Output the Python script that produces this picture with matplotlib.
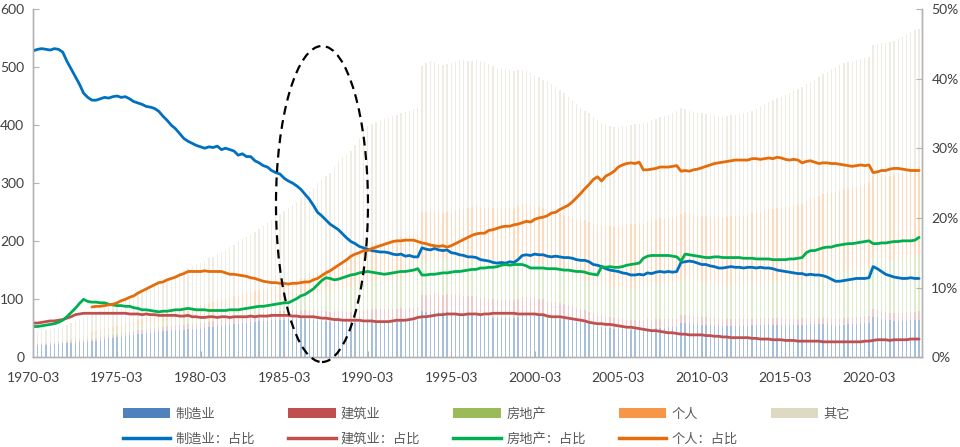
import numpy as np
import matplotlib
matplotlib.use("Agg")
import matplotlib.pyplot as plt
from matplotlib.patches import Patch, Ellipse
from matplotlib.lines import Line2D
from matplotlib.ticker import FuncFormatter

plt.rcParams["font.family"] = ["Lato", "Noto Sans CJK SC", "DejaVu Sans"]

# quarterly, 1970-03 ... 2023-03
start_year = 1970
n_quarters = 213
nan = np.nan

# total loans (left axis)
total = [
    44, 45, 46, 47, 48, 50, 52, 54, 56, 59, 62, 65, 68, 71, 74, 77,
    81, 84, 87, 89, 92, 95, 98, 101, 104, 108, 111, 115, 118, 122, 126, 130,
    134, 138, 142, 146, 150, 154, 157, 160, 163, 166, 170, 173, 177, 181, 185, 189,
    194, 198, 203, 207, 212, 216, 221, 226, 231, 236, 241, 246, 251, 257, 262, 268,
    274, 280, 286, 292, 300, 306, 312, 318, 330, 338, 345, 350, 355, 365, 378, 390,
    398, 402, 405, 408, 410, 412, 415, 417, 420, 422, 425, 427, 429, 502, 506, 510,
    508, 505, 503, 505, 507, 509, 512, 512, 511, 510, 512, 510, 508, 505, 502, 498,
    497, 497, 495, 493, 494, 495, 493, 490, 486, 482, 478, 474, 470, 465, 460, 455,
    449, 442, 436, 430, 425, 420, 414, 408, 404, 401, 399, 397, 397, 398, 399, 400,
    401, 402, 404, 406, 408, 411, 413, 415, 417, 420, 424, 429, 428, 425, 422, 420,
    420, 419, 418, 417, 415, 414, 415, 417, 418, 419, 420, 422, 425, 428, 432, 436,
    440, 443, 446, 449, 452, 455, 458, 462, 466, 470, 474, 478, 483, 488, 492, 496,
    500, 503, 506, 508, 510, 512, 514, 516, 518, 538, 540, 541, 542, 543, 545, 548,
    552, 556, 560, 564, 566,
]

# shares in % (right axis)
share_mfg = [
    44.0, 44.2, 44.3, 44.2, 44.1, 44.3, 44.2, 43.8, 42.5, 41.4, 40.3, 39.2, 37.9, 37.3, 36.9, 36.9,
    37.1, 37.3, 37.2, 37.4, 37.5, 37.3, 37.4, 37.1, 36.7, 36.5, 36.3, 36.0, 35.9, 35.7, 35.3, 34.6,
    34.0, 33.3, 32.8, 32.1, 31.4, 31.0, 30.7, 30.4, 30.2, 30.0, 30.2, 30.1, 30.3, 29.8, 30.0, 29.8,
    29.6, 29.0, 29.2, 28.8, 28.8, 28.2, 27.9, 27.5, 27.3, 26.8, 26.5, 26.3, 25.7, 25.3, 25.0, 24.6,
    24.1, 23.4, 22.7, 21.8, 20.8, 20.3, 19.7, 19.1, 18.7, 18.3, 17.7, 17.1, 16.6, 16.3, 15.9, 15.7,
    15.5, 15.3, 15.2, 15.1, 15.1, 15.0, 14.8, 14.7, 14.8, 14.5, 14.6, 14.4, 14.4, 15.7, 15.5, 15.4,
    15.6, 15.4, 15.3, 15.4, 15.0, 14.9, 14.7, 14.6, 14.4, 14.4, 14.3, 14.0, 13.9, 13.8, 13.6, 13.5,
    13.6, 13.5, 13.7, 13.6, 14.0, 14.6, 14.7, 14.6, 14.8, 14.7, 14.7, 14.5, 14.4, 14.5, 14.4, 14.3,
    14.3, 14.2, 14.0, 13.9, 13.9, 13.7, 13.3, 13.2, 13.0, 12.7, 12.5, 12.4, 12.3, 12.1, 12.0, 11.8,
    11.8, 11.9, 11.8, 12.1, 12.0, 12.2, 12.3, 12.2, 12.3, 12.2, 12.3, 13.6, 13.7, 13.8, 13.7, 13.5,
    13.3, 13.3, 13.1, 13.0, 12.8, 12.8, 12.9, 13.0, 12.9, 12.9, 12.8, 12.9, 12.9, 12.8, 12.9, 12.8,
    12.8, 12.7, 12.5, 12.4, 12.3, 12.2, 12.1, 12.0, 12.0, 11.8, 11.9, 11.8, 11.8, 11.7, 11.5, 11.2,
    10.9, 10.9, 11.0, 11.1, 11.2, 11.3, 11.3, 11.3, 11.4, 13.0, 12.7, 12.3, 11.9, 11.7, 11.5, 11.4,
    11.3, 11.3, 11.4, 11.3, 11.3,
]

share_con = [
    4.9, 4.9, 5.0, 5.1, 5.2, 5.2, 5.3, 5.4, 5.6, 5.8, 6.1, 6.2, 6.3, 6.3, 6.3, 6.3,
    6.3, 6.3, 6.3, 6.3, 6.3, 6.3, 6.3, 6.2, 6.2, 6.2, 6.1, 6.2, 6.1, 6.1, 6.0, 6.0,
    6.0, 6.0, 6.0, 5.9, 5.9, 6.0, 5.8, 5.8, 5.7, 5.7, 5.8, 5.8, 5.7, 5.8, 5.8, 5.7,
    5.8, 5.8, 5.8, 5.8, 5.9, 5.8, 5.9, 5.9, 5.9, 6.0, 6.0, 6.0, 6.0, 6.0, 5.9, 5.9,
    5.8, 5.8, 5.8, 5.8, 5.7, 5.6, 5.6, 5.5, 5.4, 5.4, 5.3, 5.3, 5.3, 5.3, 5.3, 5.2,
    5.2, 5.2, 5.1, 5.1, 5.1, 5.1, 5.2, 5.3, 5.3, 5.3, 5.4, 5.5, 5.7, 5.8, 5.8, 5.9,
    6.0, 6.1, 6.1, 6.2, 6.2, 6.2, 6.1, 6.1, 6.2, 6.2, 6.2, 6.1, 6.2, 6.2, 6.3, 6.3,
    6.3, 6.3, 6.3, 6.3, 6.2, 6.2, 6.2, 6.2, 6.2, 6.1, 6.1, 5.9, 5.8, 5.8, 5.8, 5.7,
    5.6, 5.5, 5.4, 5.3, 5.2, 5.0, 4.9, 4.8, 4.8, 4.7, 4.7, 4.6, 4.5, 4.4, 4.3, 4.3,
    4.2, 4.1, 4.0, 3.9, 3.8, 3.8, 3.7, 3.6, 3.5, 3.5, 3.4, 3.3, 3.3, 3.2, 3.2, 3.2,
    3.2, 3.1, 3.1, 3.0, 3.0, 2.9, 2.9, 2.8, 2.8, 2.8, 2.8, 2.8, 2.7, 2.7, 2.6, 2.6,
    2.6, 2.5, 2.5, 2.5, 2.4, 2.4, 2.4, 2.3, 2.3, 2.3, 2.3, 2.3, 2.3, 2.2, 2.2, 2.2,
    2.2, 2.2, 2.2, 2.2, 2.2, 2.2, 2.2, 2.3, 2.3, 2.4, 2.5, 2.5, 2.5, 2.4, 2.5, 2.5,
    2.5, 2.5, 2.6, 2.6, 2.6,
]

share_re = [
    4.4, 4.4, 4.5, 4.6, 4.7, 4.8, 5.0, 5.3, 5.8, 6.4, 7.0, 7.7, 8.3, 8.0, 7.9, 7.9,
    7.8, 7.8, 7.6, 7.5, 7.4, 7.4, 7.3, 7.3, 7.1, 7.0, 6.8, 6.8, 6.7, 6.6, 6.5, 6.6,
    6.6, 6.7, 6.8, 6.8, 6.9, 7.0, 6.9, 6.8, 6.8, 6.8, 6.7, 6.7, 6.7, 6.7, 6.7, 6.8,
    6.8, 6.8, 6.9, 7.0, 7.1, 7.2, 7.3, 7.3, 7.4, 7.5, 7.6, 7.7, 7.8, 7.8, 8.1, 8.4,
    8.8, 9.0, 9.4, 9.8, 10.4, 11.0, 11.4, 11.3, 11.1, 11.2, 11.4, 11.6, 11.8, 11.9, 12.1, 12.2,
    12.3, 12.2, 12.1, 12.0, 11.9, 12.0, 12.1, 12.2, 12.3, 12.3, 12.4, 12.5, 12.7, 11.8, 11.8, 11.9,
    11.9, 12.0, 12.1, 12.1, 12.2, 12.3, 12.3, 12.4, 12.5, 12.6, 12.6, 12.8, 12.8, 12.9, 12.9, 13.0,
    13.2, 13.3, 13.2, 13.3, 13.3, 13.3, 13.1, 12.8, 12.8, 12.8, 12.8, 12.7, 12.7, 12.7, 12.6, 12.5,
    12.5, 12.4, 12.3, 12.3, 12.2, 12.0, 11.9, 11.8, 13.0, 12.9, 13.0, 12.9, 12.9, 13.0, 13.2, 13.3,
    13.4, 13.5, 14.2, 14.5, 14.6, 14.6, 14.6, 14.6, 14.6, 14.5, 14.4, 13.8, 14.8, 14.7, 14.6, 14.5,
    14.4, 14.3, 14.3, 14.4, 14.4, 14.3, 14.3, 14.3, 14.3, 14.3, 14.2, 14.2, 14.2, 14.1, 14.1, 14.1,
    14.1, 14.0, 14.0, 14.0, 14.0, 14.1, 14.1, 14.2, 14.3, 15.0, 15.3, 15.3, 15.5, 15.7, 15.8, 15.8,
    16.0, 16.1, 16.2, 16.3, 16.3, 16.4, 16.5, 16.6, 16.7, 16.3, 16.3, 16.4, 16.4, 16.5, 16.6, 16.6,
    16.7, 16.7, 16.7, 16.8, 17.2,
]

share_pers = [
    nan, nan, nan, nan, nan, nan, nan, nan, nan, nan, nan, nan, nan, nan, 7.2, 7.3,
    7.3, 7.4, 7.5, 7.6, 7.8, 8.1, 8.3, 8.6, 8.8, 9.2, 9.5, 9.8, 10.1, 10.4, 10.7, 10.8,
    11.1, 11.3, 11.5, 11.8, 12.0, 12.3, 12.3, 12.3, 12.3, 12.4, 12.3, 12.3, 12.3, 12.3, 12.1, 11.9,
    11.9, 11.8, 11.7, 11.6, 11.4, 11.3, 11.1, 10.9, 10.8, 10.7, 10.7, 10.6, 10.6, 10.5, 10.6, 10.6,
    10.7, 10.8, 10.8, 11.1, 11.3, 11.7, 12.1, 12.4, 12.8, 13.2, 13.6, 14.0, 14.5, 14.8, 15.0, 15.3,
    15.3, 15.6, 15.8, 16.0, 16.2, 16.4, 16.6, 16.7, 16.7, 16.8, 16.8, 16.8, 16.6, 16.4, 16.3, 16.1,
    16.0, 15.9, 16.0, 15.8, 16.0, 16.3, 16.6, 16.9, 17.2, 17.5, 17.7, 17.8, 17.8, 18.2, 18.3, 18.5,
    18.7, 18.8, 18.8, 19.0, 19.1, 19.3, 19.5, 19.4, 19.8, 20.0, 20.1, 20.3, 20.7, 20.8, 21.2, 21.5,
    21.8, 22.3, 22.9, 23.5, 24.2, 24.8, 25.5, 25.9, 25.3, 26.0, 26.3, 26.7, 27.3, 27.6, 27.8, 27.9,
    27.8, 28.0, 26.9, 26.9, 27.0, 27.1, 27.3, 27.3, 27.3, 27.4, 27.5, 26.7, 26.8, 26.7, 26.9, 27.0,
    27.2, 27.4, 27.6, 27.8, 27.9, 28.0, 28.1, 28.2, 28.3, 28.3, 28.3, 28.3, 28.5, 28.5, 28.4, 28.5,
    28.6, 28.5, 28.7, 28.6, 28.4, 28.3, 28.4, 28.3, 27.9, 28.1, 28.2, 28.0, 27.8, 27.9, 27.9, 27.8,
    27.8, 27.7, 27.6, 27.5, 27.4, 27.5, 27.6, 27.5, 27.6, 26.5, 26.6, 26.8, 26.8, 27.0, 27.1, 27.1,
    27.0, 26.9, 26.8, 26.8, 26.8,
]

bar_names = ["制造业", "建筑业", "房地产", "个人", "其它"]
bar_colors = ["#4F81BD", "#C0504D", "#9BBB59", "#F79646", "#DDD9C3"]
bar_alpha = [0.5, 0.3, 0.3, 0.35, 0.45]
line_names = ["制造业：占比", "建筑业：占比", "房地产：占比", "个人：占比"]
line_colors = ["#0070C0", "#C0504D", "#00B050", "#E46C0A"]

x = np.arange(n_quarters)
tot = np.array(total, dtype=float)
shares = [np.array(s, dtype=float) for s in (share_mfg, share_con, share_re, share_pers)]

# stacked amounts built from total and shares
parts = [tot * np.nan_to_num(s) / 100 for s in shares]
parts.append(tot - sum(parts))

fig = plt.figure(figsize=(9.6, 4.47), dpi=100)
ax = fig.add_axes([0.034, 0.201, 0.926, 0.779])
ax2 = ax.twinx()

bottom = np.zeros(n_quarters)
for seg, c, a in zip(parts, bar_colors, bar_alpha):
    ax.bar(x, seg, width=0.32, bottom=bottom, color=c, alpha=a, linewidth=0)
    bottom += seg

for s, c in zip(shares, line_colors):
    ax2.plot(x, s, color=c, lw=2.0, solid_capstyle="round")

ax.set_xlim(-0.2, 212.6)
ax.set_ylim(0, 600)
ax2.set_ylim(0, 50)
ax.set_yticks(range(0, 601, 100))
ax2.set_yticks(range(0, 51, 10))
ax2.yaxis.set_major_formatter(FuncFormatter(lambda v, p: f"{v:.0f}%"))

tick_pos = list(range(0, n_quarters, 20))
ax.set_xticks(tick_pos)
ax.set_xticklabels([f"{start_year + p // 4}-03" for p in tick_pos])

grey = "#B3B3B3"
for a in (ax, ax2):
    a.spines["top"].set_visible(False)
    for side in ("left", "right", "bottom"):
        a.spines[side].set_color(grey)
        a.spines[side].set_linewidth(1.0)
    a.tick_params(colors=grey, labelcolor="#404040", labelsize=10, direction="in", length=4)
ax.tick_params(axis="x", pad=11)
ax.tick_params(axis="y", pad=6)
ax2.tick_params(axis="y", pad=7)

# dashed ellipse annotation
fig.add_artist(Ellipse((0.3354, 0.5436), 0.0958, 0.707, transform=fig.transFigure,
                       fill=False, ec="black", lw=1.6, ls=(0, (4, 2.5))))

handles, labels = [], []
for i in range(5):
    handles.append(Patch(facecolor=bar_colors[i], edgecolor="none"))
    labels.append(bar_names[i])
    if i < 4:
        handles.append(Line2D([0], [0], color=line_colors[i], lw=2.5))
        labels.append(line_names[i])

leg = fig.legend(handles, labels, ncol=5, loc="upper left", bbox_to_anchor=(0.128, 0.088),
                 frameon=False, handlelength=3.6, handleheight=0.8, handletextpad=0.4,
                 columnspacing=2.5, labelspacing=0.9, borderpad=0, borderaxespad=0,
                 prop={"family": ["Noto Sans CJK SC", "DejaVu Sans"], "size": 9.5})
for t in leg.get_texts():
    t.set_color("#595959")

fig.savefig("out.png", dpi=100)
